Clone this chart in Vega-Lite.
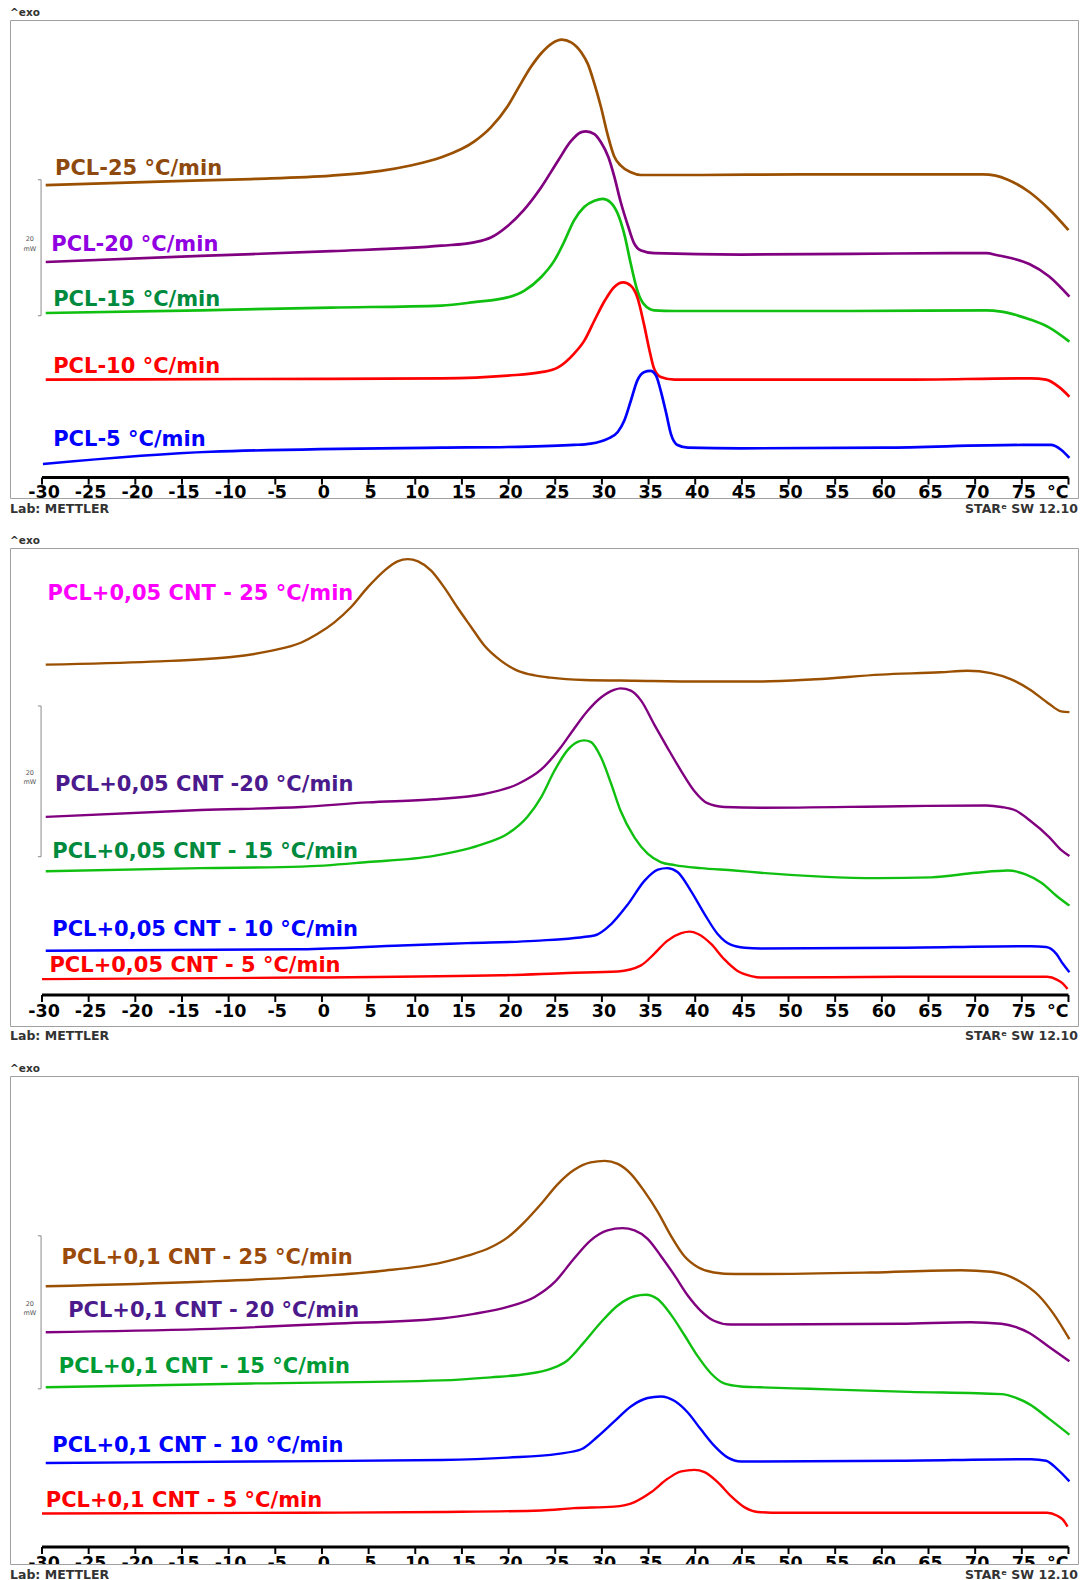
{
"$schema": "https://vega.github.io/schema/vega-lite/v6.json",
"padding": {"left": 9, "top": 7, "right": 0, "bottom": 0},
"bounds": "flush",
"spacing": 50,
"background": "white",
"resolve": {"scale": {"stroke": "independent", "fill": "independent"}},
"config": {"view": {"stroke": "#A0A0A0", "strokeWidth": 1}},
"datasets": {
"p1": [
{"s":"25","T":-29.6,"mW":46.0},{"s":"25","T":-18.3,"mW":46.5},{"s":"25","T":-7.6,"mW":46.9},{"s":"25","T":1.0,"mW":47.4},{"s":"25","T":6.3,"mW":48.1},{"s":"25","T":9.5,"mW":48.9},{"s":"25","T":12.8,"mW":50.1},{"s":"25","T":16.3,"mW":52.4},{"s":"25","T":18.1,"mW":54.5},{"s":"25","T":19.9,"mW":57.6},{"s":"25","T":21.0,"mW":60.2},{"s":"25","T":22.4,"mW":63.4},{"s":"25","T":23.5,"mW":65.4},{"s":"25","T":24.7,"mW":66.9},{"s":"25","T":25.7,"mW":67.4},{"s":"25","T":26.7,"mW":67.0},{"s":"25","T":27.8,"mW":65.5},{"s":"25","T":28.5,"mW":63.8},{"s":"25","T":29.2,"mW":60.9},{"s":"25","T":29.9,"mW":57.5},{"s":"25","T":30.6,"mW":53.5},{"s":"25","T":31.3,"mW":50.3},{"s":"25","T":32.0,"mW":48.9},{"s":"25","T":33.1,"mW":47.9},{"s":"25","T":34.2,"mW":47.5},{"s":"25","T":40.6,"mW":47.5},{"s":"25","T":51.3,"mW":47.6},{"s":"25","T":62.1,"mW":47.6},{"s":"25","T":70.8,"mW":47.6},{"s":"25","T":72.2,"mW":47.4},{"s":"25","T":73.5,"mW":46.8},{"s":"25","T":75.8,"mW":45.0},{"s":"25","T":77.9,"mW":42.5},{"s":"25","T":80.0,"mW":39.4},
{"s":"20","T":-29.6,"mW":34.7},{"s":"20","T":-13.0,"mW":35.6},{"s":"20","T":1.0,"mW":36.3},{"s":"20","T":12.8,"mW":37.1},{"s":"20","T":16.3,"mW":37.6},{"s":"20","T":18.1,"mW":38.3},{"s":"20","T":19.9,"mW":40.0},{"s":"20","T":21.6,"mW":42.3},{"s":"20","T":23.5,"mW":45.7},{"s":"20","T":25.3,"mW":49.6},{"s":"20","T":26.7,"mW":52.5},{"s":"20","T":27.8,"mW":53.8},{"s":"20","T":28.3,"mW":53.9},{"s":"20","T":29.2,"mW":53.5},{"s":"20","T":29.9,"mW":52.3},{"s":"20","T":30.7,"mW":50.1},{"s":"20","T":31.3,"mW":47.4},{"s":"20","T":32.0,"mW":43.6},{"s":"20","T":32.8,"mW":40.0},{"s":"20","T":33.4,"mW":37.6},{"s":"20","T":34.2,"mW":36.4},{"s":"20","T":35.6,"mW":36.0},{"s":"20","T":44.9,"mW":35.8},{"s":"20","T":56.7,"mW":35.9},{"s":"20","T":67.4,"mW":36.0},{"s":"20","T":71.2,"mW":36.0},{"s":"20","T":72.4,"mW":35.7},{"s":"20","T":73.8,"mW":35.3},{"s":"20","T":75.8,"mW":34.4},{"s":"20","T":77.9,"mW":32.6},{"s":"20","T":80.1,"mW":29.6},
{"s":"15","T":-29.6,"mW":27.2},{"s":"15","T":-13.0,"mW":27.6},{"s":"15","T":1.0,"mW":28.0},{"s":"15","T":12.8,"mW":28.3},{"s":"15","T":16.3,"mW":28.8},{"s":"15","T":19.9,"mW":29.5},{"s":"15","T":21.7,"mW":30.5},{"s":"15","T":23.5,"mW":32.5},{"s":"15","T":24.9,"mW":34.9},{"s":"15","T":26.0,"mW":37.8},{"s":"15","T":27.0,"mW":40.8},{"s":"15","T":28.1,"mW":42.8},{"s":"15","T":29.2,"mW":43.7},{"s":"15","T":30.1,"mW":44.0},{"s":"15","T":30.9,"mW":43.5},{"s":"15","T":31.7,"mW":41.8},{"s":"15","T":32.4,"mW":38.8},{"s":"15","T":33.1,"mW":34.4},{"s":"15","T":33.8,"mW":30.5},{"s":"15","T":34.5,"mW":28.5},{"s":"15","T":35.6,"mW":27.6},{"s":"15","T":37.8,"mW":27.5},{"s":"15","T":44.9,"mW":27.5},{"s":"15","T":56.7,"mW":27.5},{"s":"15","T":71.2,"mW":27.6},{"s":"15","T":72.8,"mW":27.4},{"s":"15","T":74.4,"mW":26.9},{"s":"15","T":75.8,"mW":26.3},{"s":"15","T":77.9,"mW":25.1},{"s":"15","T":80.1,"mW":23.0},
{"s":"10","T":-29.6,"mW":17.4},{"s":"10","T":-7.6,"mW":17.5},{"s":"10","T":12.8,"mW":17.6},{"s":"10","T":19.9,"mW":18.0},{"s":"10","T":23.5,"mW":18.5},{"s":"10","T":25.3,"mW":19.2},{"s":"10","T":27.0,"mW":21.2},{"s":"10","T":28.1,"mW":23.1},{"s":"10","T":29.2,"mW":26.1},{"s":"10","T":30.3,"mW":29.0},{"s":"10","T":31.3,"mW":31.0},{"s":"10","T":32.3,"mW":31.7},{"s":"10","T":33.1,"mW":31.2},{"s":"10","T":33.8,"mW":29.5},{"s":"10","T":34.5,"mW":25.6},{"s":"10","T":35.1,"mW":21.7},{"s":"10","T":35.6,"mW":19.0},{"s":"10","T":36.3,"mW":17.8},{"s":"10","T":37.8,"mW":17.4},{"s":"10","T":44.9,"mW":17.4},{"s":"10","T":62.1,"mW":17.4},{"s":"10","T":76.0,"mW":17.6},{"s":"10","T":77.6,"mW":17.4},{"s":"10","T":79.0,"mW":16.3},{"s":"10","T":80.1,"mW":14.9},
{"s":"5","T":-29.9,"mW":5.0},{"s":"5","T":-11.9,"mW":6.8},{"s":"5","T":12.8,"mW":7.4},{"s":"5","T":19.9,"mW":7.5},{"s":"5","T":27.0,"mW":7.8},{"s":"5","T":28.8,"mW":8.0},{"s":"5","T":30.6,"mW":8.7},{"s":"5","T":31.7,"mW":9.7},{"s":"5","T":32.4,"mW":11.4},{"s":"5","T":33.1,"mW":14.3},{"s":"5","T":33.8,"mW":17.3},{"s":"5","T":34.5,"mW":18.5},{"s":"5","T":35.2,"mW":18.7},{"s":"5","T":35.8,"mW":18.0},{"s":"5","T":36.3,"mW":15.8},{"s":"5","T":36.9,"mW":12.4},{"s":"5","T":37.4,"mW":9.4},{"s":"5","T":38.1,"mW":7.8},{"s":"5","T":39.2,"mW":7.4},{"s":"5","T":44.9,"mW":7.3},{"s":"5","T":60.3,"mW":7.4},{"s":"5","T":75.1,"mW":7.8},{"s":"5","T":78.1,"mW":7.8},{"s":"5","T":79.2,"mW":7.1},{"s":"5","T":80.1,"mW":5.9}
],
"p2": [
{"s":"25","T":-29.6,"mW":47.1},{"s":"25","T":-18.3,"mW":47.5},{"s":"25","T":-9.7,"mW":48.1},{"s":"25","T":-5.5,"mW":48.9},{"s":"25","T":-2.2,"mW":50.0},{"s":"25","T":-0.5,"mW":51.1},{"s":"25","T":1.3,"mW":52.6},{"s":"25","T":3.1,"mW":54.6},{"s":"25","T":4.9,"mW":57.2},{"s":"25","T":6.7,"mW":59.4},{"s":"25","T":8.1,"mW":60.6},{"s":"25","T":9.2,"mW":60.9},{"s":"25","T":10.3,"mW":60.6},{"s":"25","T":11.7,"mW":59.4},{"s":"25","T":13.1,"mW":57.2},{"s":"25","T":14.5,"mW":54.6},{"s":"25","T":16.0,"mW":52.0},{"s":"25","T":17.4,"mW":49.6},{"s":"25","T":19.2,"mW":47.6},{"s":"25","T":21.0,"mW":46.3},{"s":"25","T":22.8,"mW":45.7},{"s":"25","T":24.5,"mW":45.4},{"s":"25","T":28.1,"mW":45.1},{"s":"25","T":33.5,"mW":45.0},{"s":"25","T":40.6,"mW":44.9},{"s":"25","T":47.0,"mW":44.9},{"s":"25","T":52.9,"mW":45.2},{"s":"25","T":59.9,"mW":45.8},{"s":"25","T":66.3,"mW":46.1},{"s":"25","T":69.2,"mW":46.3},{"s":"25","T":71.7,"mW":46.0},{"s":"25","T":73.8,"mW":45.2},{"s":"25","T":75.8,"mW":43.9},{"s":"25","T":77.9,"mW":42.0},{"s":"25","T":79.2,"mW":41.0},{"s":"25","T":80.1,"mW":40.9},
{"s":"20","T":-29.6,"mW":27.2},{"s":"20","T":-13.0,"mW":28.1},{"s":"20","T":-2.2,"mW":28.5},{"s":"20","T":4.9,"mW":29.1},{"s":"20","T":12.0,"mW":29.5},{"s":"20","T":17.4,"mW":30.2},{"s":"20","T":21.0,"mW":31.5},{"s":"20","T":23.5,"mW":33.4},{"s":"20","T":25.6,"mW":36.3},{"s":"20","T":27.0,"mW":38.7},{"s":"20","T":28.5,"mW":41.1},{"s":"20","T":29.9,"mW":42.8},{"s":"20","T":31.3,"mW":43.8},{"s":"20","T":32.0,"mW":44.0},{"s":"20","T":33.1,"mW":43.7},{"s":"20","T":34.2,"mW":42.4},{"s":"20","T":35.6,"mW":39.3},{"s":"20","T":37.0,"mW":36.3},{"s":"20","T":38.5,"mW":33.2},{"s":"20","T":39.9,"mW":30.6},{"s":"20","T":41.3,"mW":29.0},{"s":"20","T":43.1,"mW":28.5},{"s":"20","T":47.0,"mW":28.4},{"s":"20","T":62.0,"mW":28.6},{"s":"20","T":71.2,"mW":28.7},{"s":"20","T":72.8,"mW":28.5},{"s":"20","T":74.4,"mW":28.0},{"s":"20","T":75.8,"mW":26.8},{"s":"20","T":77.9,"mW":24.6},{"s":"20","T":79.2,"mW":22.9},{"s":"20","T":80.1,"mW":22.1},
{"s":"15","T":-29.6,"mW":20.1},{"s":"15","T":-13.0,"mW":20.5},{"s":"15","T":-2.2,"mW":20.7},{"s":"15","T":4.9,"mW":21.3},{"s":"15","T":12.0,"mW":22.1},{"s":"15","T":17.4,"mW":23.7},{"s":"15","T":19.9,"mW":25.0},{"s":"15","T":22.0,"mW":27.2},{"s":"15","T":23.5,"mW":29.8},{"s":"15","T":24.9,"mW":33.2},{"s":"15","T":26.3,"mW":35.9},{"s":"15","T":27.4,"mW":37.0},{"s":"15","T":28.1,"mW":37.2},{"s":"15","T":28.8,"mW":37.0},{"s":"15","T":29.9,"mW":35.0},{"s":"15","T":31.0,"mW":31.5},{"s":"15","T":32.0,"mW":28.0},{"s":"15","T":33.5,"mW":24.5},{"s":"15","T":34.9,"mW":22.4},{"s":"15","T":36.3,"mW":21.3},{"s":"15","T":37.8,"mW":20.9},{"s":"15","T":40.6,"mW":20.5},{"s":"15","T":44.2,"mW":20.2},{"s":"15","T":47.0,"mW":19.9},{"s":"15","T":53.5,"mW":19.4},{"s":"15","T":59.6,"mW":19.2},{"s":"15","T":65.3,"mW":19.3},{"s":"15","T":70.1,"mW":19.9},{"s":"15","T":73.5,"mW":20.2},{"s":"15","T":75.4,"mW":19.7},{"s":"15","T":77.1,"mW":18.6},{"s":"15","T":78.7,"mW":16.9},{"s":"15","T":80.1,"mW":15.6},
{"s":"10","T":-29.6,"mW":9.7},{"s":"10","T":-2.2,"mW":9.9},{"s":"10","T":8.5,"mW":10.4},{"s":"10","T":15.6,"mW":10.7},{"s":"10","T":22.8,"mW":11.0},{"s":"10","T":29.2,"mW":11.7},{"s":"10","T":31.0,"mW":13.2},{"s":"10","T":32.8,"mW":15.8},{"s":"10","T":34.6,"mW":18.9},{"s":"10","T":36.0,"mW":20.3},{"s":"10","T":37.0,"mW":20.5},{"s":"10","T":38.1,"mW":20.0},{"s":"10","T":39.5,"mW":17.6},{"s":"10","T":41.0,"mW":14.5},{"s":"10","T":42.4,"mW":11.9},{"s":"10","T":43.8,"mW":10.5},{"s":"10","T":45.3,"mW":10.1},{"s":"10","T":47.0,"mW":10.0},{"s":"10","T":62.0,"mW":10.1},{"s":"10","T":76.0,"mW":10.3},{"s":"10","T":77.6,"mW":10.2},{"s":"10","T":78.7,"mW":9.3},{"s":"10","T":79.4,"mW":8.0},{"s":"10","T":80.1,"mW":6.9},
{"s":"5","T":-30.0,"mW":6.0},{"s":"5","T":-2.2,"mW":6.2},{"s":"5","T":19.2,"mW":6.5},{"s":"5","T":26.3,"mW":6.8},{"s":"5","T":31.7,"mW":7.0},{"s":"5","T":34.2,"mW":7.8},{"s":"5","T":35.6,"mW":9.3},{"s":"5","T":37.0,"mW":11.0},{"s":"5","T":38.5,"mW":12.0},{"s":"5","T":39.4,"mW":12.2},{"s":"5","T":40.3,"mW":11.9},{"s":"5","T":41.7,"mW":10.6},{"s":"5","T":43.1,"mW":8.6},{"s":"5","T":44.5,"mW":7.1},{"s":"5","T":46.0,"mW":6.4},{"s":"5","T":47.0,"mW":6.2},{"s":"5","T":62.0,"mW":6.3},{"s":"5","T":77.7,"mW":6.3},{"s":"5","T":78.8,"mW":5.9},{"s":"5","T":79.4,"mW":5.4},{"s":"5","T":79.9,"mW":4.7}
],
"p3": [
{"s":"25","T":-29.6,"mW":36.3},{"s":"25","T":-13.0,"mW":36.9},{"s":"25","T":-2.2,"mW":37.5},{"s":"25","T":6.3,"mW":38.3},{"s":"25","T":12.8,"mW":39.4},{"s":"25","T":15.6,"mW":40.3},{"s":"25","T":18.1,"mW":41.4},{"s":"25","T":19.9,"mW":42.7},{"s":"25","T":21.7,"mW":44.7},{"s":"25","T":23.5,"mW":47.1},{"s":"25","T":25.3,"mW":49.7},{"s":"25","T":27.0,"mW":51.5},{"s":"25","T":28.8,"mW":52.5},{"s":"25","T":30.3,"mW":52.7},{"s":"25","T":31.7,"mW":52.3},{"s":"25","T":33.1,"mW":51.0},{"s":"25","T":34.5,"mW":48.8},{"s":"25","T":36.0,"mW":46.0},{"s":"25","T":37.4,"mW":42.9},{"s":"25","T":38.8,"mW":40.3},{"s":"25","T":40.3,"mW":38.8},{"s":"25","T":42.0,"mW":38.1},{"s":"25","T":44.2,"mW":37.9},{"s":"25","T":47.0,"mW":37.9},{"s":"25","T":58.8,"mW":38.1},{"s":"25","T":68.5,"mW":38.4},{"s":"25","T":71.7,"mW":38.2},{"s":"25","T":73.3,"mW":37.8},{"s":"25","T":74.7,"mW":37.0},{"s":"25","T":76.8,"mW":35.1},{"s":"25","T":78.4,"mW":32.7},{"s":"25","T":80.1,"mW":29.4},
{"s":"20","T":-29.6,"mW":30.3},{"s":"20","T":-13.0,"mW":30.7},{"s":"20","T":1.0,"mW":31.4},{"s":"20","T":12.8,"mW":32.1},{"s":"20","T":16.3,"mW":32.7},{"s":"20","T":19.9,"mW":33.6},{"s":"20","T":22.8,"mW":34.9},{"s":"20","T":24.9,"mW":36.8},{"s":"20","T":27.0,"mW":39.9},{"s":"20","T":28.8,"mW":42.3},{"s":"20","T":30.6,"mW":43.6},{"s":"20","T":32.2,"mW":43.9},{"s":"20","T":33.5,"mW":43.6},{"s":"20","T":34.9,"mW":42.5},{"s":"20","T":36.3,"mW":40.3},{"s":"20","T":37.8,"mW":37.7},{"s":"20","T":39.2,"mW":35.1},{"s":"20","T":40.6,"mW":33.1},{"s":"20","T":42.0,"mW":31.8},{"s":"20","T":43.8,"mW":31.3},{"s":"20","T":47.0,"mW":31.3},{"s":"20","T":62.0,"mW":31.4},{"s":"20","T":69.5,"mW":31.6},{"s":"20","T":72.8,"mW":31.4},{"s":"20","T":74.4,"mW":30.95},{"s":"20","T":75.8,"mW":30.2},{"s":"20","T":77.9,"mW":28.4},{"s":"20","T":80.1,"mW":26.5},
{"s":"15","T":-29.6,"mW":23.1},{"s":"15","T":-7.6,"mW":23.6},{"s":"15","T":12.8,"mW":24.0},{"s":"15","T":18.1,"mW":24.4},{"s":"15","T":21.7,"mW":24.8},{"s":"15","T":24.5,"mW":25.5},{"s":"15","T":26.3,"mW":26.6},{"s":"15","T":28.1,"mW":29.0},{"s":"15","T":29.9,"mW":31.6},{"s":"15","T":31.7,"mW":33.8},{"s":"15","T":33.5,"mW":35.0},{"s":"15","T":34.7,"mW":35.2},{"s":"15","T":36.0,"mW":34.6},{"s":"15","T":37.4,"mW":32.6},{"s":"15","T":38.8,"mW":30.0},{"s":"15","T":40.3,"mW":27.1},{"s":"15","T":41.7,"mW":24.9},{"s":"15","T":43.1,"mW":23.6},{"s":"15","T":44.9,"mW":23.2},{"s":"15","T":47.0,"mW":23.1},{"s":"15","T":52.2,"mW":22.9},{"s":"15","T":62.9,"mW":22.5},{"s":"15","T":72.8,"mW":22.2},{"s":"15","T":74.4,"mW":21.7},{"s":"15","T":75.8,"mW":20.9},{"s":"15","T":77.9,"mW":19.0},{"s":"15","T":80.1,"mW":16.9},
{"s":"10","T":-29.6,"mW":13.2},{"s":"10","T":-7.6,"mW":13.4},{"s":"10","T":12.8,"mW":13.6},{"s":"10","T":19.9,"mW":13.9},{"s":"10","T":25.3,"mW":14.4},{"s":"10","T":27.8,"mW":15.0},{"s":"10","T":29.5,"mW":16.6},{"s":"10","T":31.3,"mW":18.6},{"s":"10","T":33.1,"mW":20.6},{"s":"10","T":34.9,"mW":21.7},{"s":"10","T":36.3,"mW":21.9},{"s":"10","T":37.8,"mW":21.3},{"s":"10","T":39.2,"mW":19.8},{"s":"10","T":40.6,"mW":17.6},{"s":"10","T":42.0,"mW":15.5},{"s":"10","T":43.5,"mW":13.9},{"s":"10","T":44.9,"mW":13.4},{"s":"10","T":47.0,"mW":13.4},{"s":"10","T":62.0,"mW":13.5},{"s":"10","T":76.0,"mW":13.7},{"s":"10","T":77.6,"mW":13.5},{"s":"10","T":78.8,"mW":12.4},{"s":"10","T":80.1,"mW":10.8},
{"s":"5","T":-30.0,"mW":6.6},{"s":"5","T":-2.2,"mW":6.7},{"s":"5","T":12.8,"mW":6.8},{"s":"5","T":23.5,"mW":7.0},{"s":"5","T":27.0,"mW":7.3},{"s":"5","T":31.3,"mW":7.5},{"s":"5","T":33.5,"mW":8.1},{"s":"5","T":35.3,"mW":9.4},{"s":"5","T":37.0,"mW":11.1},{"s":"5","T":38.5,"mW":12.1},{"s":"5","T":39.9,"mW":12.3},{"s":"5","T":41.0,"mW":12.0},{"s":"5","T":42.4,"mW":10.7},{"s":"5","T":43.8,"mW":8.9},{"s":"5","T":45.3,"mW":7.4},{"s":"5","T":46.7,"mW":6.8},{"s":"5","T":49.2,"mW":6.7},{"s":"5","T":62.0,"mW":6.7},{"s":"5","T":77.7,"mW":6.7},{"s":"5","T":78.8,"mW":6.3},{"s":"5","T":79.4,"mW":5.8},{"s":"5","T":79.9,"mW":4.9}
],
"l1": [
{"T":-28.6,"mW":47.5,"label":"PCL-25 °C/min"},{"T":-29.0,"mW":36.3,"label":"PCL-20 °C/min"},{"T":-28.8,"mW":28.3,"label":"PCL-15 °C/min"},{"T":-28.8,"mW":18.4,"label":"PCL-10 °C/min"},{"T":-28.8,"mW":7.7,"label":"PCL-5 °C/min"}
],
"l2": [
{"T":-29.4,"mW":55.6,"label":"PCL+0,05 CNT - 25 °C/min"},{"T":-28.6,"mW":30.6,"label":"PCL+0,05 CNT -20 °C/min"},{"T":-28.9,"mW":21.8,"label":"PCL+0,05 CNT - 15 °C/min"},{"T":-28.9,"mW":11.6,"label":"PCL+0,05 CNT - 10 °C/min"},{"T":-29.2,"mW":6.9,"label":"PCL+0,05 CNT - 5 °C/min"}
],
"l3": [
{"T":-27.9,"mW":39.2,"label":"PCL+0,1 CNT - 25 °C/min"},{"T":-27.2,"mW":32.3,"label":"PCL+0,1 CNT - 20 °C/min"},{"T":-28.2,"mW":25.0,"label":"PCL+0,1 CNT - 15 °C/min"},{"T":-28.9,"mW":14.6,"label":"PCL+0,1 CNT - 10 °C/min"},{"T":-29.6,"mW":7.5,"label":"PCL+0,1 CNT - 5 °C/min"}
],
"tk": [
{"t":-30,"lab":"-30"},{"t":-25,"lab":"-25"},{"t":-20,"lab":"-20"},{"t":-15,"lab":"-15"},{"t":-10,"lab":"-10"},{"t":-5,"lab":"-5"},{"t":0,"lab":"0"},{"t":5,"lab":"5"},{"t":10,"lab":"10"},{"t":15,"lab":"15"},{"t":20,"lab":"20"},{"t":25,"lab":"25"},{"t":30,"lab":"30"},{"t":35,"lab":"35"},{"t":40,"lab":"40"},{"t":45,"lab":"45"},{"t":50,"lab":"50"},{"t":55,"lab":"55"},{"t":60,"lab":"60"},{"t":65,"lab":"65"},{"t":70,"lab":"70"},{"t":75,"lab":"75"},{"t":80,"lab":""}
]
},
"vconcat": [
{
"width": 1068, "height": 478,
"title": {"text": "^exo", "anchor": "start", "frame": "group", "font": "DejaVu Sans", "fontWeight": "bold", "fontSize": 10.5, "color": "#333333", "offset": 2},
"layer": [
{"data": {"name": "p1"}, "mark": {"type": "line", "strokeWidth": 2.7, "interpolate": "monotone"},
"encoding": {
"x": {"field": "T", "type": "quantitative", "scale": {"domain": [-33.43, 81.02], "nice": false, "zero": false},
"axis": {"orient": "bottom", "offset": -20.4, "domain": false, "grid": false, "title": null, "labels": false,
"values": [-30,-29,-28,-27,-26,-25,-24,-23,-22,-21,-20,-19,-18,-17,-16,-15,-14,-13,-12,-11,-10,-9,-8,-7,-6,-5,-4,-3,-2,-1,0,1,2,3,4,5,6,7,8,9,10,11,12,13,14,15,16,17,18,19,20,21,22,23,24,25,26,27,28,29,30,31,32,33,34,35,36,37,38,39,40,41,42,43,44,45,46,47,48,49,50,51,52,53,54,55,56,57,58,59,60,61,62,63,64,65,66,67,68,69,70,71,72,73,74,75,76,77,78,79,80],
"tickColor": "black", "tickSize": 4.5, "tickWidth": 1.5}},
"y": {"field": "mW", "type": "quantitative", "scale": {"domain": [0, 70.29], "nice": false, "zero": false}, "axis": null},
"stroke": {"field": "s", "type": "nominal", "scale": {"domain": ["25","20","15","10","5"], "range": ["#9A5000","#800080","#10C010","#FF0000","#0000FF"]}, "legend": null}
}},
{"data": {"values": [{}]}, "mark": {"type": "rule", "color": "black", "strokeWidth": 3},
"encoding": {"x": {"datum": -30, "type": "quantitative", "scale": {"domain": [-33.43, 81.02], "nice": false, "zero": false}, "axis": null}, "x2": {"datum": 80}, "y": {"datum": 3.0, "type": "quantitative", "scale": {"domain": [0, 70.29], "nice": false, "zero": false}, "axis": null}}},
{"data": {"name": "tk"}, "mark": {"type": "tick", "orient": "vertical", "size": 7, "thickness": 2, "color": "black", "opacity": 1},
"encoding": {"x": {"field": "t", "type": "quantitative", "scale": {"domain": [-33.43, 81.02], "nice": false, "zero": false}, "axis": null}, "y": {"datum": 2.49, "type": "quantitative", "scale": {"domain": [0, 70.29], "nice": false, "zero": false}, "axis": null}}},
{"data": {"name": "tk"}, "mark": {"type": "text", "align": "center", "baseline": "top", "dx": 2, "font": "DejaVu Sans", "fontWeight": "bold", "fontSize": 17.5, "color": "black"},
"encoding": {"x": {"field": "t", "type": "quantitative", "scale": {"domain": [-33.43, 81.02], "nice": false, "zero": false}, "axis": null}, "y": {"datum": 2.12, "type": "quantitative", "scale": {"domain": [0, 70.29], "nice": false, "zero": false}, "axis": null}, "text": {"field": "lab"}}},
{"data": {"values": [{}]}, "mark": {"type": "text", "text": "°C", "align": "right", "baseline": "top", "font": "DejaVu Sans", "fontWeight": "bold", "fontSize": 17.5, "color": "black"},
"encoding": {"x": {"datum": 80, "type": "quantitative", "scale": {"domain": [-33.43, 81.02], "nice": false, "zero": false}, "axis": null}, "y": {"datum": 2.12, "type": "quantitative", "scale": {"domain": [0, 70.29], "nice": false, "zero": false}, "axis": null}}},
{"data": {"values": [{"a":-30.1,"b":-30.1,"c":26.8,"d":46.8},{"a":-30.45,"b":-30.1,"c":46.8,"d":46.8},{"a":-30.45,"b":-30.1,"c":26.8,"d":26.8}]}, "mark": {"type": "rule", "color": "#8A8A8A", "strokeWidth": 1},
"encoding": {"x": {"field": "a", "type": "quantitative", "scale": {"domain": [-33.43, 81.02], "nice": false, "zero": false}, "axis": null}, "x2": {"field": "b"}, "y": {"field": "c", "type": "quantitative", "scale": {"domain": [0, 70.29], "nice": false, "zero": false}, "axis": null}, "y2": {"field": "d"}}},
{"data": {"values": [{"a":-31.3,"c":38.1,"txt":"20"},{"a":-31.3,"c":36.6,"txt":"mW"}]}, "mark": {"type": "text", "font": "DejaVu Sans", "fontSize": 6.5, "color": "#555555", "align": "center", "baseline": "middle"},
"encoding": {"x": {"field": "a", "type": "quantitative", "scale": {"domain": [-33.43, 81.02], "nice": false, "zero": false}, "axis": null}, "y": {"field": "c", "type": "quantitative", "scale": {"domain": [0, 70.29], "nice": false, "zero": false}, "axis": null}, "text": {"field": "txt"}}},
{"data": {"name": "l1"}, "mark": {"type": "text", "align": "left", "baseline": "alphabetic", "font": "DejaVu Sans", "fontWeight": "bold", "fontSize": 21},
"encoding": {"x": {"field": "T", "type": "quantitative", "scale": {"domain": [-33.43, 81.02], "nice": false, "zero": false}, "axis": null}, "y": {"field": "mW", "type": "quantitative", "scale": {"domain": [0, 70.29], "nice": false, "zero": false}, "axis": null}, "text": {"field": "label"},
"fill": {"field": "label", "type": "nominal", "scale": {"domain": ["PCL-25 °C/min","PCL-20 °C/min","PCL-15 °C/min","PCL-10 °C/min","PCL-5 °C/min"], "range": ["#8E4A0E","#9000E0","#008A3E","#FF0000","#0000FF"]}, "legend": null}}},
{"data": {"values": [{}]}, "mark": {"type": "text", "text": "Lab: METTLER", "align": "left", "baseline": "middle", "font": "DejaVu Sans", "fontWeight": "bold", "fontSize": 12.5, "color": "#333333"},
"encoding": {"x": {"datum": -33.43, "type": "quantitative", "scale": {"domain": [-33.43, 81.02], "nice": false, "zero": false}, "axis": null}, "y": {"datum": -1.6, "type": "quantitative", "scale": {"domain": [0, 70.29], "nice": false, "zero": false}, "axis": null}}},
{"data": {"values": [{}]}, "mark": {"type": "text", "text": "STARᵉ SW 12.10", "align": "right", "baseline": "middle", "font": "DejaVu Sans", "fontWeight": "bold", "fontSize": 12.5, "color": "#333333"},
"encoding": {"x": {"datum": 81.02, "type": "quantitative", "scale": {"domain": [-33.43, 81.02], "nice": false, "zero": false}, "axis": null}, "y": {"datum": -1.6, "type": "quantitative", "scale": {"domain": [0, 70.29], "nice": false, "zero": false}, "axis": null}}}
]
},
{
"width": 1068, "height": 478,
"title": {"text": "^exo", "anchor": "start", "frame": "group", "font": "DejaVu Sans", "fontWeight": "bold", "fontSize": 10.5, "color": "#333333", "offset": 2},
"layer": [
{"data": {"name": "p2"}, "mark": {"type": "line", "strokeWidth": 2.4, "interpolate": "monotone"},
"encoding": {
"x": {"field": "T", "type": "quantitative", "scale": {"domain": [-33.43, 81.02], "nice": false, "zero": false},
"axis": {"orient": "bottom", "offset": -31, "domain": false, "grid": false, "title": null, "labels": false,
"values": [-30,-29,-28,-27,-26,-25,-24,-23,-22,-21,-20,-19,-18,-17,-16,-15,-14,-13,-12,-11,-10,-9,-8,-7,-6,-5,-4,-3,-2,-1,0,1,2,3,4,5,6,7,8,9,10,11,12,13,14,15,16,17,18,19,20,21,22,23,24,25,26,27,28,29,30,31,32,33,34,35,36,37,38,39,40,41,42,43,44,45,46,47,48,49,50,51,52,53,54,55,56,57,58,59,60,61,62,63,64,65,66,67,68,69,70,71,72,73,74,75,76,77,78,79,80],
"tickColor": "black", "tickSize": 4.5, "tickWidth": 1.5}},
"y": {"field": "mW", "type": "quantitative", "scale": {"domain": [-0.13, 62.35], "nice": false, "zero": false}, "axis": null},
"stroke": {"field": "s", "type": "nominal", "scale": {"domain": ["25","20","15","10","5"], "range": ["#9A5000","#800080","#10C010","#0000FF","#FF0000"]}, "legend": null}
}},
{"data": {"values": [{}]}, "mark": {"type": "rule", "color": "black", "strokeWidth": 3},
"encoding": {"x": {"datum": -30, "type": "quantitative", "scale": {"domain": [-33.43, 81.02], "nice": false, "zero": false}, "axis": null}, "x2": {"datum": 80}, "y": {"datum": 3.92, "type": "quantitative", "scale": {"domain": [-0.13, 62.35], "nice": false, "zero": false}, "axis": null}}},
{"data": {"name": "tk"}, "mark": {"type": "tick", "orient": "vertical", "size": 7, "thickness": 2, "color": "black", "opacity": 1},
"encoding": {"x": {"field": "t", "type": "quantitative", "scale": {"domain": [-33.43, 81.02], "nice": false, "zero": false}, "axis": null}, "y": {"datum": 3.46, "type": "quantitative", "scale": {"domain": [-0.13, 62.35], "nice": false, "zero": false}, "axis": null}}},
{"data": {"name": "tk"}, "mark": {"type": "text", "clip": true, "align": "center", "baseline": "top", "dx": 2, "font": "DejaVu Sans", "fontWeight": "bold", "fontSize": 17.5, "color": "black"},
"encoding": {"x": {"field": "t", "type": "quantitative", "scale": {"domain": [-33.43, 81.02], "nice": false, "zero": false}, "axis": null}, "y": {"datum": 2.88, "type": "quantitative", "scale": {"domain": [-0.13, 62.35], "nice": false, "zero": false}, "axis": null}, "text": {"field": "lab"}}},
{"data": {"values": [{}]}, "mark": {"type": "text", "clip": true, "text": "°C", "align": "right", "baseline": "top", "font": "DejaVu Sans", "fontWeight": "bold", "fontSize": 17.5, "color": "black"},
"encoding": {"x": {"datum": 80, "type": "quantitative", "scale": {"domain": [-33.43, 81.02], "nice": false, "zero": false}, "axis": null}, "y": {"datum": 2.88, "type": "quantitative", "scale": {"domain": [-0.13, 62.35], "nice": false, "zero": false}, "axis": null}}},
{"data": {"values": [{"a":-30.1,"b":-30.1,"c":22.0,"d":41.7},{"a":-30.45,"b":-30.1,"c":41.7,"d":41.7},{"a":-30.45,"b":-30.1,"c":22.0,"d":22.0}]}, "mark": {"type": "rule", "color": "#8A8A8A", "strokeWidth": 1},
"encoding": {"x": {"field": "a", "type": "quantitative", "scale": {"domain": [-33.43, 81.02], "nice": false, "zero": false}, "axis": null}, "x2": {"field": "b"}, "y": {"field": "c", "type": "quantitative", "scale": {"domain": [-0.13, 62.35], "nice": false, "zero": false}, "axis": null}, "y2": {"field": "d"}}},
{"data": {"values": [{"a":-31.3,"c":33.0,"txt":"20"},{"a":-31.3,"c":31.8,"txt":"mW"}]}, "mark": {"type": "text", "font": "DejaVu Sans", "fontSize": 6.5, "color": "#555555", "align": "center", "baseline": "middle"},
"encoding": {"x": {"field": "a", "type": "quantitative", "scale": {"domain": [-33.43, 81.02], "nice": false, "zero": false}, "axis": null}, "y": {"field": "c", "type": "quantitative", "scale": {"domain": [-0.13, 62.35], "nice": false, "zero": false}, "axis": null}, "text": {"field": "txt"}}},
{"data": {"name": "l2"}, "mark": {"type": "text", "align": "left", "baseline": "alphabetic", "font": "DejaVu Sans", "fontWeight": "bold", "fontSize": 21},
"encoding": {"x": {"field": "T", "type": "quantitative", "scale": {"domain": [-33.43, 81.02], "nice": false, "zero": false}, "axis": null}, "y": {"field": "mW", "type": "quantitative", "scale": {"domain": [-0.13, 62.35], "nice": false, "zero": false}, "axis": null}, "text": {"field": "label"},
"fill": {"field": "label", "type": "nominal", "scale": {"domain": ["PCL+0,05 CNT - 25 °C/min","PCL+0,05 CNT -20 °C/min","PCL+0,05 CNT - 15 °C/min","PCL+0,05 CNT - 10 °C/min","PCL+0,05 CNT - 5 °C/min"], "range": ["#FF00FF","#4B1A8C","#008A3E","#0000FF","#FF0000"]}, "legend": null}}},
{"data": {"values": [{}]}, "mark": {"type": "text", "text": "Lab: METTLER", "align": "left", "baseline": "middle", "font": "DejaVu Sans", "fontWeight": "bold", "fontSize": 12.5, "color": "#333333"},
"encoding": {"x": {"datum": -33.43, "type": "quantitative", "scale": {"domain": [-33.43, 81.02], "nice": false, "zero": false}, "axis": null}, "y": {"datum": -1.45, "type": "quantitative", "scale": {"domain": [-0.13, 62.35], "nice": false, "zero": false}, "axis": null}}},
{"data": {"values": [{}]}, "mark": {"type": "text", "text": "STARᵉ SW 12.10", "align": "right", "baseline": "middle", "font": "DejaVu Sans", "fontWeight": "bold", "fontSize": 12.5, "color": "#333333"},
"encoding": {"x": {"datum": 81.02, "type": "quantitative", "scale": {"domain": [-33.43, 81.02], "nice": false, "zero": false}, "axis": null}, "y": {"datum": -1.45, "type": "quantitative", "scale": {"domain": [-0.13, 62.35], "nice": false, "zero": false}, "axis": null}}}
]
},
{
"width": 1068, "height": 488,
"title": {"text": "^exo", "anchor": "start", "frame": "group", "font": "DejaVu Sans", "fontWeight": "bold", "fontSize": 10.5, "color": "#333333", "offset": 2},
"layer": [
{"data": {"name": "p3"}, "mark": {"type": "line", "strokeWidth": 2.4, "interpolate": "monotone"},
"encoding": {
"x": {"field": "T", "type": "quantitative", "scale": {"domain": [-33.43, 81.02], "nice": false, "zero": false},
"axis": {"orient": "bottom", "offset": -17, "domain": false, "grid": false, "title": null, "labels": false,
"values": [-30,-29,-28,-27,-26,-25,-24,-23,-22,-21,-20,-19,-18,-17,-16,-15,-14,-13,-12,-11,-10,-9,-8,-7,-6,-5,-4,-3,-2,-1,0,1,2,3,4,5,6,7,8,9,10,11,12,13,14,15,16,17,18,19,20,21,22,23,24,25,26,27,28,29,30,31,32,33,34,35,36,37,38,39,40,41,42,43,44,45,46,47,48,49,50,51,52,53,54,55,56,57,58,59,60,61,62,63,64,65,66,67,68,69,70,71,72,73,74,75,76,77,78,79,80],
"tickColor": "black", "tickSize": 4.5, "tickWidth": 1.5}},
"y": {"field": "mW", "type": "quantitative", "scale": {"domain": [0, 63.79], "nice": false, "zero": false}, "axis": null},
"stroke": {"field": "s", "type": "nominal", "scale": {"domain": ["25","20","15","10","5"], "range": ["#9A5000","#800080","#10C010","#0000FF","#FF0000"]}, "legend": null}
}},
{"data": {"values": [{}]}, "mark": {"type": "rule", "color": "black", "strokeWidth": 3},
"encoding": {"x": {"datum": -30, "type": "quantitative", "scale": {"domain": [-33.43, 81.02], "nice": false, "zero": false}, "axis": null}, "x2": {"datum": 80}, "y": {"datum": 2.22, "type": "quantitative", "scale": {"domain": [0, 63.79], "nice": false, "zero": false}, "axis": null}}},
{"data": {"name": "tk"}, "mark": {"type": "tick", "orient": "vertical", "size": 7, "thickness": 2, "color": "black", "opacity": 1},
"encoding": {"x": {"field": "t", "type": "quantitative", "scale": {"domain": [-33.43, 81.02], "nice": false, "zero": false}, "axis": null}, "y": {"datum": 1.76, "type": "quantitative", "scale": {"domain": [0, 63.79], "nice": false, "zero": false}, "axis": null}}},
{"data": {"name": "tk"}, "mark": {"type": "text", "clip": true, "align": "center", "baseline": "top", "dx": 2, "font": "DejaVu Sans", "fontWeight": "bold", "fontSize": 17.5, "color": "black"},
"encoding": {"x": {"field": "t", "type": "quantitative", "scale": {"domain": [-33.43, 81.02], "nice": false, "zero": false}, "axis": null}, "y": {"datum": 1.18, "type": "quantitative", "scale": {"domain": [0, 63.79], "nice": false, "zero": false}, "axis": null}, "text": {"field": "lab"}}},
{"data": {"values": [{}]}, "mark": {"type": "text", "clip": true, "text": "°C", "align": "right", "baseline": "top", "font": "DejaVu Sans", "fontWeight": "bold", "fontSize": 17.5, "color": "black"},
"encoding": {"x": {"datum": 80, "type": "quantitative", "scale": {"domain": [-33.43, 81.02], "nice": false, "zero": false}, "axis": null}, "y": {"datum": 1.18, "type": "quantitative", "scale": {"domain": [0, 63.79], "nice": false, "zero": false}, "axis": null}}},
{"data": {"values": [{"a":-30.1,"b":-30.1,"c":22.9,"d":42.9},{"a":-30.45,"b":-30.1,"c":42.9,"d":42.9},{"a":-30.45,"b":-30.1,"c":22.9,"d":22.9}]}, "mark": {"type": "rule", "color": "#8A8A8A", "strokeWidth": 1},
"encoding": {"x": {"field": "a", "type": "quantitative", "scale": {"domain": [-33.43, 81.02], "nice": false, "zero": false}, "axis": null}, "x2": {"field": "b"}, "y": {"field": "c", "type": "quantitative", "scale": {"domain": [0, 63.79], "nice": false, "zero": false}, "axis": null}, "y2": {"field": "d"}}},
{"data": {"values": [{"a":-31.3,"c":34.0,"txt":"20"},{"a":-31.3,"c":32.8,"txt":"mW"}]}, "mark": {"type": "text", "font": "DejaVu Sans", "fontSize": 6.5, "color": "#555555", "align": "center", "baseline": "middle"},
"encoding": {"x": {"field": "a", "type": "quantitative", "scale": {"domain": [-33.43, 81.02], "nice": false, "zero": false}, "axis": null}, "y": {"field": "c", "type": "quantitative", "scale": {"domain": [0, 63.79], "nice": false, "zero": false}, "axis": null}, "text": {"field": "txt"}}},
{"data": {"name": "l3"}, "mark": {"type": "text", "align": "left", "baseline": "alphabetic", "font": "DejaVu Sans", "fontWeight": "bold", "fontSize": 21},
"encoding": {"x": {"field": "T", "type": "quantitative", "scale": {"domain": [-33.43, 81.02], "nice": false, "zero": false}, "axis": null}, "y": {"field": "mW", "type": "quantitative", "scale": {"domain": [0, 63.79], "nice": false, "zero": false}, "axis": null}, "text": {"field": "label"},
"fill": {"field": "label", "type": "nominal", "scale": {"domain": ["PCL+0,1 CNT - 25 °C/min","PCL+0,1 CNT - 20 °C/min","PCL+0,1 CNT - 15 °C/min","PCL+0,1 CNT - 10 °C/min","PCL+0,1 CNT - 5 °C/min"], "range": ["#9A4A0A","#4B1A8C","#009A35","#0000FF","#FF0000"]}, "legend": null}}},
{"data": {"values": [{}]}, "mark": {"type": "text", "text": "Lab: METTLER", "align": "left", "baseline": "middle", "font": "DejaVu Sans", "fontWeight": "bold", "fontSize": 12.5, "color": "#333333"},
"encoding": {"x": {"datum": -33.43, "type": "quantitative", "scale": {"domain": [-33.43, 81.02], "nice": false, "zero": false}, "axis": null}, "y": {"datum": -1.44, "type": "quantitative", "scale": {"domain": [0, 63.79], "nice": false, "zero": false}, "axis": null}}},
{"data": {"values": [{}]}, "mark": {"type": "text", "text": "STARᵉ SW 12.10", "align": "right", "baseline": "middle", "font": "DejaVu Sans", "fontWeight": "bold", "fontSize": 12.5, "color": "#333333"},
"encoding": {"x": {"datum": 81.02, "type": "quantitative", "scale": {"domain": [-33.43, 81.02], "nice": false, "zero": false}, "axis": null}, "y": {"datum": -1.44, "type": "quantitative", "scale": {"domain": [0, 63.79], "nice": false, "zero": false}, "axis": null}}}
]
}
]
}
